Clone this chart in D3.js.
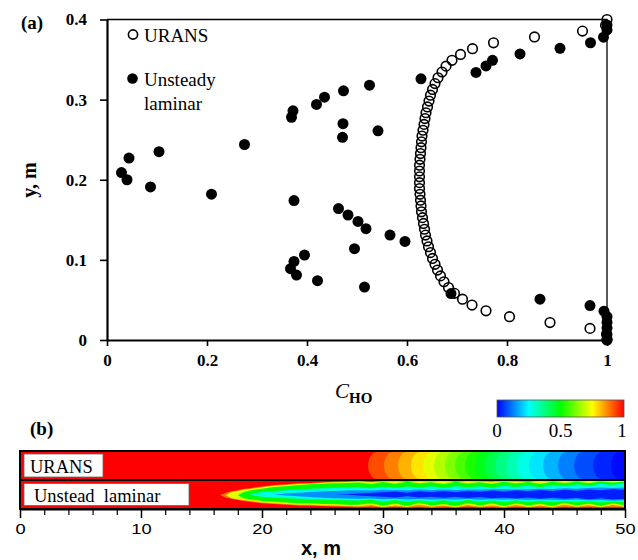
<!DOCTYPE html>
<html>
<head>
<meta charset="utf-8">
<script src="https://cdn.jsdelivr.net/npm/d3@7"></script>
<style>body{margin:0;background:#fff}</style>
</head>
<body>
<svg id="chart" width="638" height="560"></svg>
<script>
// ---------- (a) transverse profiles of C_HO ----------
const uransY = [0.000, 0.0073, 0.0145, 0.0218, 0.0291, 0.0364, 0.0436, 0.0509, 0.0582, 0.0655,
  0.0727, 0.0800, 0.0873, 0.0945, 0.1018, 0.1091, 0.1164, 0.1236, 0.1309, 0.1382,
  0.1455, 0.1527, 0.1600, 0.1673, 0.1745, 0.1818, 0.1891, 0.1964, 0.2036, 0.2109,
  0.2182, 0.2255, 0.2327, 0.2400, 0.2473, 0.2545, 0.2618, 0.2691, 0.2764, 0.2836,
  0.2909, 0.2982, 0.3055, 0.3127, 0.3200, 0.3273, 0.3345, 0.3418, 0.3491, 0.3564,
  0.3636, 0.3709, 0.3782, 0.3855, 0.3927, 0.4000];
const uransC = [1.000, 0.999, 0.966, 0.886, 0.805, 0.758, 0.730, 0.711, 0.695, 0.683,
  0.674, 0.667, 0.661, 0.656, 0.651, 0.647, 0.643, 0.640, 0.637, 0.635,
  0.633, 0.631, 0.629, 0.628, 0.627, 0.626, 0.625, 0.625, 0.625, 0.625,
  0.625, 0.626, 0.627, 0.628, 0.629, 0.630, 0.632, 0.634, 0.636, 0.638,
  0.641, 0.644, 0.647, 0.651, 0.656, 0.662, 0.670, 0.678, 0.690, 0.707,
  0.731, 0.773, 0.855, 0.951, 0.997, 1.000];

const laminarC = [0.029, 0.040, 0.044, 0.104, 0.087, 0.209, 0.275, 0.369, 0.372, 0.419,
  0.374, 0.435, 0.473, 0.525, 0.472, 0.471, 0.542, 0.628, 0.738, 0.758,
  0.771, 0.826, 0.906, 0.967, 0.993, 1.000, 1.000, 0.463, 0.482, 0.502,
  0.518, 0.495, 0.566, 0.596, 0.515, 0.421, 0.395, 0.374, 0.367, 0.379,
  0.688, 0.866, 0.966, 0.994, 1.000, 1.000, 1.000, 1.000, 1.000];
const laminarY = [0.209, 0.200, 0.227, 0.235, 0.191, 0.182, 0.244, 0.278, 0.286, 0.294,
  0.174, 0.303, 0.311, 0.318, 0.270, 0.253, 0.261, 0.326, 0.334, 0.342,
  0.349, 0.357, 0.364, 0.371, 0.378, 0.387, 0.393, 0.164, 0.156, 0.148,
  0.139, 0.114, 0.131, 0.123, 0.066, 0.074, 0.106, 0.098, 0.089, 0.081,
  0.058, 0.051, 0.043, 0.036, 0.029, 0.022, 0.015, 0.007, 0.001];

const yTicksA = [0, 0.1, 0.2, 0.3, 0.4];
const xTicksA = [0, 0.2, 0.4, 0.6, 0.8, 1];

// ---------- (b) contour maps along the channel ----------
const colorStops = [0, 0.25, 0.5, 0.75, 1];
const colorRamp = ["#0000ff", "#00ffff", "#00ff00", "#ffff00", "#ff0000"];
const colorbarTicks = [0, 0.5, 1];
const xTicksB = [0, 10, 20, 30, 40, 50];
const xMinorB = [2, 4, 6, 8, 12, 14, 16, 18, 22, 24, 26, 28, 32, 34, 36, 38, 42, 44, 46, 48];

// URANS: contour levels and the x (m) where each level crosses the centreline
const uransLevels = [0.95, 0.90, 0.85, 0.80, 0.75, 0.70, 0.65, 0.60, 0.55, 0.50,
  0.45, 0.40, 0.35, 0.30, 0.25, 0.20, 0.15, 0.10, 0.05, 0.02];
const uransFrontX = [28.76, 30.08, 31.24, 32.31, 33.31, 34.21, 35.12, 35.95, 36.78, 37.60,
  38.43, 39.26, 40.17, 41.07, 42.07, 43.22, 44.46, 45.79, 47.36, 48.84];

// Unsteady laminar: plume layers (upper / lower edge, m) at stations along x
const plumeX = [16.6, 17, 17.5, 18, 18.5, 19, 19.5, 20, 21, 22, 23, 24, 25, 26, 27, 28, 29, 30, 31,
  32, 33, 34, 35, 36, 37, 38, 39, 40, 41, 42, 43, 44, 45, 46, 47, 48, 49, 50];
const orangeTop = [0.195, 0.225, 0.245, 0.26, 0.28, 0.285, 0.30, 0.31, 0.33, 0.34, 0.355, 0.36, 0.37,
  0.375, 0.38, 0.385, 0.378, 0.386, 0.39, 0.382, 0.39, 0.385, 0.39, 0.383, 0.39, 0.388, 0.382,
  0.39, 0.387, 0.383, 0.39, 0.386, 0.39, 0.384, 0.39, 0.388, 0.39, 0.39];
const orangeBot = [0.185, 0.16, 0.14, 0.125, 0.11, 0.10, 0.09, 0.08, 0.07, 0.06, 0.05, 0.045, 0.04,
  0.035, 0.03, 0.025, 0.03, 0.02, 0.028, 0.02, 0.026, 0.018, 0.025, 0.02, 0.03, 0.02, 0.025,
  0.018, 0.028, 0.02, 0.024, 0.018, 0.026, 0.02, 0.028, 0.02, 0.025, 0.02];
const yellowTop = [0.19, 0.19, 0.235, 0.25, 0.27, 0.275, 0.29, 0.30, 0.32, 0.33, 0.345, 0.35, 0.362,
  0.368, 0.372, 0.378, 0.37, 0.38, 0.383, 0.375, 0.384, 0.378, 0.385, 0.376, 0.384, 0.381, 0.375,
  0.384, 0.38, 0.376, 0.385, 0.379, 0.385, 0.378, 0.385, 0.382, 0.385, 0.385];
const yellowBot = [0.19, 0.19, 0.15, 0.135, 0.12, 0.11, 0.10, 0.09, 0.08, 0.07, 0.06, 0.058, 0.05,
  0.048, 0.042, 0.038, 0.055, 0.028, 0.05, 0.026, 0.058, 0.03, 0.048, 0.025, 0.056, 0.03, 0.05,
  0.026, 0.055, 0.028, 0.05, 0.025, 0.058, 0.03, 0.052, 0.026, 0.055, 0.03];
const greenTop = [0.19, 0.19, 0.19, 0.19, 0.235, 0.255, 0.27, 0.28, 0.305, 0.315, 0.33, 0.34, 0.35,
  0.355, 0.36, 0.365, 0.345, 0.372, 0.35, 0.375, 0.355, 0.37, 0.345, 0.376, 0.352, 0.37, 0.35,
  0.377, 0.355, 0.372, 0.348, 0.376, 0.358, 0.377, 0.36, 0.378, 0.365, 0.378];
const greenBot = [0.19, 0.19, 0.19, 0.19, 0.15, 0.135, 0.125, 0.11, 0.10, 0.09, 0.08, 0.078, 0.07,
  0.068, 0.06, 0.058, 0.08, 0.045, 0.075, 0.04, 0.085, 0.05, 0.07, 0.042, 0.082, 0.048, 0.078,
  0.04, 0.08, 0.05, 0.072, 0.04, 0.085, 0.048, 0.075, 0.042, 0.08, 0.05];
const cyanTop = [0.2, 0.2, 0.2, 0.2, 0.2, 0.2, 0.22, 0.235, 0.25, 0.26, 0.27, 0.28, 0.285,
  0.29, 0.295, 0.30, 0.285, 0.31, 0.29, 0.312, 0.295, 0.315, 0.29, 0.318, 0.30, 0.315, 0.295,
  0.322, 0.305, 0.325, 0.30, 0.33, 0.315, 0.34, 0.325, 0.35, 0.335, 0.355];
const cyanBot = [0.2, 0.2, 0.2, 0.2, 0.2, 0.2, 0.18, 0.17, 0.16, 0.15, 0.14, 0.135, 0.13,
  0.125, 0.12, 0.118, 0.13, 0.105, 0.125, 0.10, 0.122, 0.102, 0.12, 0.098, 0.125, 0.10, 0.118,
  0.095, 0.12, 0.098, 0.115, 0.092, 0.11, 0.095, 0.108, 0.09, 0.105, 0.095];
const lightBlueTop = [0.2, 0.2, 0.2, 0.2, 0.2, 0.2, 0.2, 0.2, 0.2, 0.215, 0.225, 0.235, 0.245,
  0.25, 0.255, 0.26, 0.255, 0.265, 0.262, 0.258, 0.268, 0.262, 0.27, 0.262, 0.27, 0.268, 0.272,
  0.275, 0.268, 0.272, 0.28, 0.275, 0.285, 0.28, 0.29, 0.295, 0.29, 0.295];
const lightBlueBot = [0.2, 0.2, 0.2, 0.2, 0.2, 0.2, 0.2, 0.2, 0.2, 0.185, 0.175, 0.165, 0.155,
  0.15, 0.145, 0.14, 0.145, 0.135, 0.14, 0.132, 0.138, 0.13, 0.135, 0.132, 0.138, 0.128, 0.134,
  0.13, 0.136, 0.125, 0.13, 0.128, 0.124, 0.13, 0.12, 0.125, 0.118, 0.12];
const blueTop = [0.2, 0.2, 0.2, 0.2, 0.2, 0.2, 0.2, 0.2, 0.2, 0.2, 0.2, 0.2, 0.2,
  0.2, 0.205, 0.215, 0.225, 0.232, 0.24, 0.225, 0.245, 0.23, 0.248, 0.232, 0.25, 0.238, 0.255,
  0.24, 0.258, 0.245, 0.262, 0.248, 0.265, 0.252, 0.27, 0.26, 0.275, 0.265];
const blueBot = [0.2, 0.2, 0.2, 0.2, 0.2, 0.2, 0.2, 0.2, 0.2, 0.2, 0.2, 0.2, 0.2,
  0.2, 0.195, 0.185, 0.175, 0.17, 0.16, 0.175, 0.158, 0.17, 0.155, 0.168, 0.152, 0.165, 0.148,
  0.16, 0.145, 0.158, 0.142, 0.155, 0.14, 0.152, 0.135, 0.148, 0.13, 0.14];
const plumeLayers = [
  {value: 0.88, top: orangeTop, bottom: orangeBot},
  {value: 0.72, top: yellowTop, bottom: yellowBot},
  {value: 0.50, top: greenTop, bottom: greenBot},
  {value: 0.28, top: cyanTop, bottom: cyanBot},
  {value: 0.14, top: lightBlueTop, bottom: lightBlueBot},
  {value: 0.03, top: blueTop, bottom: blueBot}
];

// ---------- drawing ----------
const SERIF = "'Liberation Serif', 'Times New Roman', serif";
const SANS = "'Liberation Sans', Arial, sans-serif";
const svg = d3.select("#chart");
svg.append("rect").attr("width", 638).attr("height", 560).attr("fill", "#fff");

const cmap = d3.scaleLinear().domain(colorStops).range(colorRamp).interpolate(d3.interpolateRgb);

// ----- panel (a) -----
const xA = d3.scaleLinear().domain([0, 1]).range([107, 607]);
const yA = d3.scaleLinear().domain([0, 0.4]).range([340, 19.5]);
const fmtA = d => d === 0 ? "0" : d === 1 ? "1" : d3.format(".1f")(d);

svg.append("path")
  .attr("d", `M${xA(0)},${yA(0.4)}H${xA(1)}V${yA(0)}`)
  .attr("fill", "none").attr("stroke", "#000").attr("stroke-width", 1.3);

const gyA = svg.append("g").attr("transform", `translate(${xA(0)},0)`)
  .call(d3.axisLeft(yA).tickValues(yTicksA).tickFormat(fmtA).tickSize(7).tickSizeOuter(0).tickPadding(13));
const gxA = svg.append("g").attr("transform", `translate(0,${yA(0)})`)
  .call(d3.axisBottom(xA).tickValues(xTicksA).tickFormat(fmtA).tickSize(6).tickSizeOuter(0).tickPadding(8));
[gyA, gxA].forEach(g => {
  g.select(".domain").attr("stroke", "#000").attr("stroke-width", 2.2);
  g.selectAll(".tick line").attr("stroke", "#000").attr("stroke-width", 1.6);
  g.selectAll(".tick text").attr("font-family", SERIF).attr("font-weight", "bold")
    .attr("font-size", 17).attr("fill", "#000");
});

svg.append("g").selectAll("circle")
  .data(d3.zip(uransC, uransY)).join("circle")
  .attr("cx", d => xA(d[0])).attr("cy", d => yA(d[1])).attr("r", 4.8)
  .attr("fill", "none").attr("stroke", "#000").attr("stroke-width", 1.6);
svg.append("g").selectAll("circle")
  .data(d3.zip(laminarC, laminarY)).join("circle")
  .attr("cx", d => xA(d[0])).attr("cy", d => yA(d[1])).attr("r", 5.5)
  .attr("fill", "#000");

// legend
svg.append("circle").attr("cx", 133).attr("cy", 34.5).attr("r", 4.6)
  .attr("fill", "none").attr("stroke", "#000").attr("stroke-width", 1.6);
svg.append("circle").attr("cx", 132.5).attr("cy", 78.5).attr("r", 5.3).attr("fill", "#000");
const legendText = svg.append("g").attr("font-family", SERIF).attr("font-size", 19).attr("fill", "#000");
legendText.append("text").attr("x", 144).attr("y", 42).text("URANS");
legendText.append("text").attr("x", 144).attr("y", 86).text("Unsteady");
legendText.append("text").attr("x", 144).attr("y", 110).text("laminar");

svg.append("text").attr("x", 21).attr("y", 29).attr("font-family", SERIF)
  .attr("font-weight", "bold").attr("font-size", 19).text("(a)");
svg.append("text").attr("transform", "translate(36,180) rotate(-90)")
  .attr("text-anchor", "middle").attr("font-family", SERIF).attr("font-weight", "bold")
  .attr("font-size", 20).text("y, m");
const cLabel = svg.append("text").attr("x", 335).attr("y", 398).attr("font-family", SERIF);
cLabel.append("tspan").attr("font-style", "italic").attr("font-size", 21).text("C");
cLabel.append("tspan").attr("font-weight", "bold").attr("font-size", 15).attr("dy", 5).text("HO");

// ----- panel (b) -----
svg.append("text").attr("x", 30).attr("y", 435).attr("font-family", SERIF)
  .attr("font-weight", "bold").attr("font-size", 19).text("(b)");

// colour bar
const cb = d3.scaleLinear().domain([0, 1]).range([497, 624]);
const grad = svg.append("defs").append("linearGradient").attr("id", "cbar")
  .attr("x1", "0%").attr("x2", "100%").attr("y1", "0%").attr("y2", "0%");
grad.selectAll("stop").data(colorStops).join("stop")
  .attr("offset", d => (d * 100) + "%").attr("stop-color", d => cmap(d));
svg.append("rect").attr("x", cb(0)).attr("y", 400).attr("width", cb(1) - cb(0)).attr("height", 17)
  .attr("fill", "url(#cbar)").attr("stroke", "#555").attr("stroke-width", 0.8);
svg.append("g").selectAll("text").data(colorbarTicks).join("text")
  .attr("x", d => cb(d) - (d === 1 ? 2 : 0)).attr("y", 437).attr("text-anchor", "middle")
  .attr("font-family", SERIF).attr("font-size", 19).text(d => d3.format("~g")(d));

const xB = d3.scaleLinear().domain([0, 50]).range([20, 625]);
const yU = d3.scaleLinear().domain([0, 0.4]).range([480, 451]);
const yL = d3.scaleLinear().domain([0, 0.4]).range([509, 480]);

const defs = svg.select("defs");
defs.append("clipPath").attr("id", "clipU").append("rect")
  .attr("x", xB(0)).attr("y", yU(0.4)).attr("width", xB(50) - xB(0)).attr("height", yU(0) - yU(0.4));
defs.append("clipPath").attr("id", "clipL").append("rect")
  .attr("x", xB(0)).attr("y", yL(0.4)).attr("width", xB(50) - xB(0)).attr("height", yL(0) - yL(0.4));

// URANS strip: rounded contour fronts, lower values further downstream
const gU = svg.append("g").attr("clip-path", "url(#clipU)");
gU.append("rect").attr("x", xB(0)).attr("y", yU(0.4)).attr("width", xB(50) - xB(0))
  .attr("height", yU(0) - yU(0.4)).attr("fill", cmap(1));
const bulge = 9;
gU.selectAll("path").data(uransLevels).join("path")
  .attr("d", (lv, i) => {
    const xc = xB(uransFrontX[i]);
    const top = yU(0.385), bot = yU(0.015);
    const ry = (bot - top) / 2;
    return `M${xB(50) + 5},${top}L${xc + bulge},${top}A${bulge},${ry} 0 0 0 ${xc + bulge},${bot}L${xB(50) + 5},${bot}Z`;
  })
  .attr("fill", (lv, i) => cmap((lv + (uransLevels[i + 1] ?? 0)) / 2));

// Unsteady laminar strip: layered plume
const gL = svg.append("g").attr("clip-path", "url(#clipL)");
gL.append("rect").attr("x", xB(0)).attr("y", yL(0.4)).attr("width", xB(50) - xB(0))
  .attr("height", yL(0) - yL(0.4)).attr("fill", cmap(1));
gL.selectAll("path").data(plumeLayers).join("path")
  .attr("d", layer => d3.area()
    .x((d, i) => xB(plumeX[i]))
    .y0((d, i) => yL(layer.bottom[i]))
    .y1((d, i) => yL(layer.top[i]))
    .curve(d3.curveLinear)(plumeX))
  .attr("fill", layer => cmap(layer.value));

// strip labels
svg.append("rect").attr("x", 24).attr("y", 454).attr("width", 79).attr("height", 23)
  .attr("fill", "#fff").attr("stroke", "#666").attr("stroke-width", 0.8);
svg.append("text").attr("x", 30).attr("y", 473).attr("font-family", SERIF).attr("font-size", 18.5).text("URANS");
svg.append("rect").attr("x", 24).attr("y", 483.5).attr("width", 165).attr("height", 22)
  .attr("fill", "#fff").attr("stroke", "#666").attr("stroke-width", 0.8);
svg.append("text").attr("x", 34).attr("y", 502).attr("font-family", SERIF).attr("font-size", 18.5)
  .style("white-space", "pre").text("Unstead  laminar");

// frame
svg.append("rect").attr("x", xB(0)).attr("y", yU(0.4)).attr("width", xB(50) - xB(0))
  .attr("height", yL(0) - yU(0.4)).attr("fill", "none").attr("stroke", "#000").attr("stroke-width", 2);
svg.append("line").attr("x1", xB(0)).attr("x2", xB(50)).attr("y1", yU(0)).attr("y2", yU(0))
  .attr("stroke", "#000").attr("stroke-width", 2.2);

// x axis of (b)
const gxB = svg.append("g").attr("transform", `translate(0,${yL(0)})`)
  .call(d3.axisBottom(xB).tickValues(xTicksB).tickFormat(d3.format("d")).tickSize(9).tickSizeOuter(0).tickPadding(5));
gxB.select(".domain").attr("stroke", "#000").attr("stroke-width", 2);
gxB.selectAll(".tick line").attr("stroke", "#000").attr("stroke-width", 1.5);
gxB.selectAll(".tick text").attr("font-family", SANS).attr("font-size", 15).attr("fill", "#000")
  .attr("transform", "scale(1.22,1)");
const gxBm = svg.append("g").attr("transform", `translate(0,${yL(0)})`)
  .call(d3.axisBottom(xB).tickValues(xMinorB).tickFormat("").tickSize(6).tickSizeOuter(0));
gxBm.select(".domain").remove();
gxBm.selectAll(".tick line").attr("stroke", "#000").attr("stroke-width", 1.2);

svg.append("text").attr("x", 321).attr("y", 555).attr("text-anchor", "middle")
  .attr("font-family", SANS).attr("font-weight", "bold").attr("font-size", 20).text("x, m");
</script>
</body>
</html>
